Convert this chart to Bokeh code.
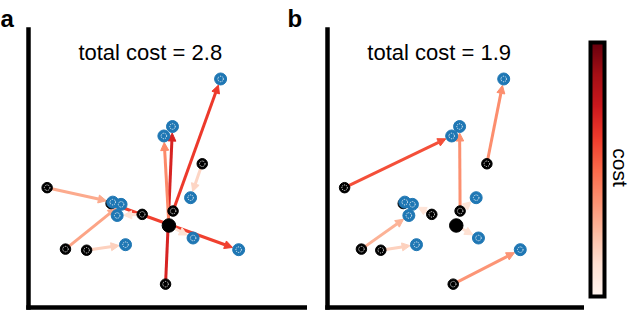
import numpy as np
from bokeh.plotting import figure
from bokeh.layouts import row
from bokeh.models import (Range1d, Arrow, NormalHead, ColumnDataSource, Label,
                          FixedTicker, LinearColorMapper, LinearAxis)
from bokeh.transform import linear_cmap
from bokeh.palettes import Reds256
from bokeh.embed import file_html
from bokeh.resources import INLINE

# ---- data (axes-fraction coordinates) ----
src_x = [0.067, 0.133, 0.209, 0.297, 0.409, 0.520, 0.505, 0.625, 0.493]
src_y = [0.431, 0.210, 0.206, 0.374, 0.335, 0.347, 0.295, 0.517, 0.084]
tgt_x = [0.691, 0.518, 0.487, 0.583, 0.303, 0.333, 0.319, 0.349, 0.592, 0.756]
tgt_y = [0.822, 0.651, 0.617, 0.395, 0.379, 0.371, 0.331, 0.226, 0.250, 0.208]
hub = 6  # the large black dot (two sources share it)

match_a_src = [0, 3, 1, 2, 4, 5, 8, 7, 6, 6]
match_a_tgt = [4, 9, 5, 7, 6, 0, 1, 3, 8, 2]
match_b_src = [0, 7, 5, 5, 6, 1, 2, 4, 3, 8]
match_b_tgt = [2, 0, 1, 3, 8, 6, 7, 5, 4, 9]

titles = ["total cost = 2.8", "total cost = 1.9"]
letters = ["a", "b"]
cost_label = "cost"
cost_max = 0.8

FONT = "Liberation Sans"
BLUE = "#1f77b4"
H = 311          # canvas height
AX_TOP = 29      # axes top (px from canvas top)
AX_BOT = 307     # axes bottom
AX_H = AX_BOT - AX_TOP

pal = list(Reds256)
def _lum(h):
    return int(h[1:3], 16) + int(h[3:5], 16) + int(h[5:7], 16)
if _lum(pal[0]) < _lum(pal[-1]):
    pal = pal[::-1]  # light for low cost
mapper = LinearColorMapper(palette=pal, low=0, high=cost_max)
cmap = linear_cmap("cost", pal, 0, cost_max)


def spine():
    return LinearAxis(fixed_location=0, bounds=(0, 1), ticker=FixedTicker(ticks=[]),
                      major_tick_out=0, major_tick_in=0, minor_tick_out=0,
                      minor_tick_in=0, axis_line_width=4.5, axis_line_color="black",
                      axis_line_cap="square", major_label_text_font_size="0px")


def make_panel(width, ax_left, ax_w, msrc, mtgt, title):
    # frame = whole canvas; axes region [0,1]x[0,1] sits at ax_left..ax_left+ax_w
    xr = Range1d(-ax_left / ax_w, (width - ax_left) / ax_w)
    yr = Range1d(-(H - AX_BOT) / AX_H, (AX_BOT) / AX_H)
    p = figure(width=width, height=H, x_range=xr, y_range=yr,
               output_backend="svg", toolbar_location=None,
               x_axis_location=None, y_axis_location=None, min_border=0)
    p.outline_line_color = None
    p.grid.visible = False
    p.add_layout(spine(), "below")
    p.add_layout(spine(), "left")

    # arrows, shortened at the target end by the marker radius (in screen px)
    x0, y0, x1, y1, cost = [], [], [], [], []
    shrink = 6.5
    for s, t in zip(msrc, mtgt):
        dx = tgt_x[t] - src_x[s]
        dy = tgt_y[t] - src_y[s]
        c = float(np.hypot(dx, dy))
        lp = float(np.hypot(dx * ax_w, dy * AX_H))
        if lp <= shrink + 1:
            continue
        f = (lp - shrink) / lp
        x0.append(src_x[s]); y0.append(src_y[s])
        x1.append(src_x[s] + dx * f); y1.append(src_y[s] + dy * f)
        cost.append(c)
    cds = ColumnDataSource(dict(x0=x0, y0=y0, x1=x1, y1=y1, cost=cost))
    head = NormalHead(size=8, fill_color=cmap, line_color=cmap, line_width=1)
    arr = Arrow(end=head, x_start="x0", y_start="y0", x_end="x1", y_end="y1",
                line_color=cmap, line_width=3, source=cds, level="underlay")
    p.add_layout(arr)

    # sources
    p.scatter(src_x, src_y, size=10.5, color="black")
    p.scatter(src_x, src_y, size=5.5, fill_color=None, line_color="white",
              line_width=1, line_dash="1 1")
    p.scatter([src_x[hub]], [src_y[hub]], size=13.5, color="black")
    # targets
    p.scatter(tgt_x, tgt_y, size=12, color=BLUE)
    p.scatter(tgt_x, tgt_y, size=5.5, fill_color=None, line_color="white",
              line_width=1, line_dash="1 1")

    p.add_layout(Label(x=0.438, y=(AX_BOT - 51.5) / AX_H, text=title,
                       text_align="center", text_baseline="alphabetic",
                       text_font=FONT, text_font_size="22px", text_color="black"))
    return p


pa = make_panel(307, 28, 278, match_a_src, match_a_tgt, titles[0])
pb = make_panel(277, 20, 255, match_b_src, match_b_tgt, titles[1])

# panel letters (both fall inside panel a's canvas)
for lx, txt in ((0.0, letters[0]), (287.0, letters[1])):
    pa.add_layout(Label(x=(lx - 28) / 278, y=(AX_BOT - 17.5) / AX_H, text=txt,
                        text_align="left", text_baseline="alphabetic",
                        text_font=FONT, text_font_style="bold",
                        text_font_size="24px", text_color="black"))

# colour bar: bar (stroke centre) at canvas x 6..20, y 42..296
CW = 50
BX0, BX1, BY0, BY1 = 6, 20, 42, 296
bw, bh = BX1 - BX0, BY1 - BY0
pc = figure(width=CW, height=H,
            x_range=Range1d(-BX0 / bw, (CW - BX0) / bw),
            y_range=Range1d(-(H - BY1) / bh * cost_max, (BY1) / bh * cost_max),
            output_backend="svg", toolbar_location=None,
            x_axis_location=None, y_axis_location=None, min_border=0)
pc.grid.visible = False
pc.outline_line_color = None
grad = np.linspace(0, cost_max, 256).reshape(256, 1)
pc.image(image=[grad], x=0, y=0, dw=1, dh=cost_max, color_mapper=mapper)
pc.quad(left=[0], right=[1], bottom=[0], top=[cost_max], fill_color=None,
        line_color="black", line_width=4, line_join="miter")
pc.add_layout(Label(x=(36 - BX0) / bw, y=(BY1 - 167) / bh * cost_max,
                    text=cost_label, angle=-np.pi / 2, text_align="center",
                    text_baseline="middle", text_font=FONT,
                    text_font_size="21px", text_color="black"))

layout = row(pa, pb, pc, spacing=0)
open("out.html", "w").write(file_html(layout, INLINE))
